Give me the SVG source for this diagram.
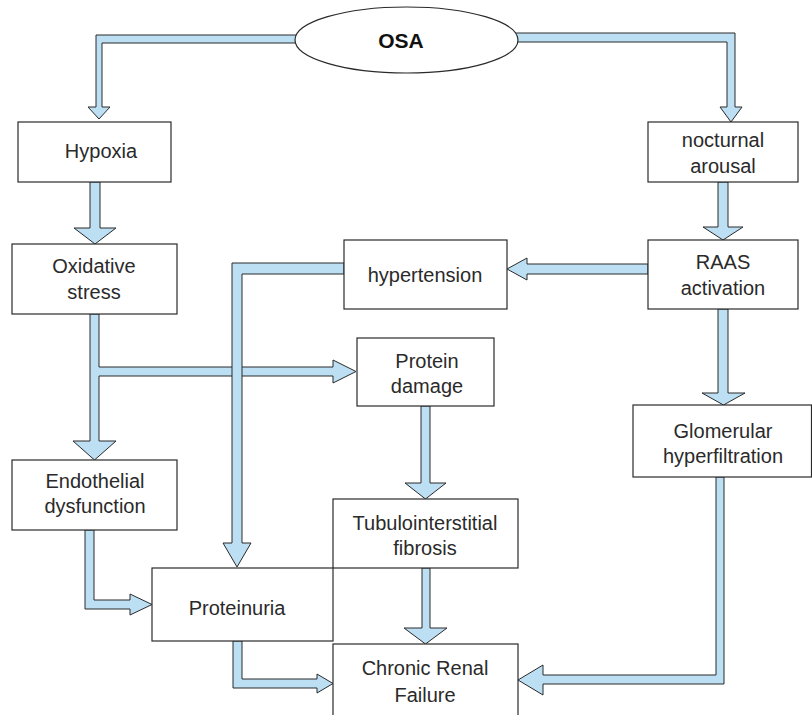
<svg xmlns="http://www.w3.org/2000/svg" width="812" height="715" viewBox="0 0 812 715">
<style>
.bg{fill:#ffffff}
.box{fill:#ffffff;stroke:#2a2a2a;stroke-width:1.2}
.arr{fill:#bcdff3;stroke:#2a2a2a;stroke-width:1;stroke-linejoin:miter}
.t{font-family:"Liberation Sans",Arial,sans-serif;font-size:20px;fill:#2a2a2a;text-anchor:middle}
.b{font-weight:bold;font-size:21px;fill:#111}
</style>
<rect class="bg" x="0" y="0" width="812" height="715"/>
<g id="connectors">
<path class="arr" d="M300,35 H96 V107 H88 L99,119 L110,107 H102 V43 H300 Z"/>
<path class="arr" d="M512,33 H735 V107 H742 L731,122 L720,107 H727 V42 H512 Z"/>
<path class="arr" d="M90,182 V228 H74 L95,244 L116,228 H100 V182 Z"/>
<path class="arr" d="M718,182 V227 H703 L723,240 L743,227 H728 V182 Z"/>
<path class="arr" d="M648,264 H527 V258 L507,269 L527,280 V274 H648 Z"/>
<path class="arr" d="M90,314 V441 H73 L94.5,460 L116,441 H99 V376 H333 V383 L356,371.5 L333,360 V367 H99 V314 Z"/>
<path class="arr" d="M344,263 H232 V543 H223 L237,567 L251,543 H242 V274 H344 Z"/>
<path class="arr" d="M85,530 V609 H130 V615 L152,604.5 L130,594 V600 H94 V530 Z"/>
<path class="arr" d="M233,641 V688 H317 V693 L333,683.5 L317,674 V679 H242 V641 Z"/>
<path class="arr" d="M421,406 V483 H405 L425.5,499 L446,483 H430 V406 Z"/>
<path class="arr" d="M422,568 V628 H404 L425.5,644 L447,628 H430 V568 Z"/>
<path class="arr" d="M718,309 V393 H702 L723.5,405 L745,393 H728 V309 Z"/>
<path class="arr" d="M716,477 V675 H543 V665 L518,680 L543,695 V684 H724 V477 Z"/>
</g>
<g id="osa">
<ellipse class="box" cx="406.5" cy="40" rx="111.5" ry="33"/>
<text class="t b" x="401" y="48">OSA</text>
</g>
<g id="hypoxia">
<rect class="box" x="18" y="122" width="153" height="60"/>
<text class="t" x="101" y="158">Hypoxia</text>
</g>
<g id="nocturnal">
<rect class="box" x="648" y="122" width="150" height="60"/>
<text class="t" x="723" y="147">nocturnal</text>
<text class="t" x="723" y="173">arousal</text>
</g>
<g id="oxidative">
<rect class="box" x="12" y="244" width="165" height="70"/>
<text class="t" x="94" y="273">Oxidative</text>
<text class="t" x="94" y="299">stress</text>
</g>
<g id="hypertension">
<rect class="box" x="344" y="240" width="163" height="69"/>
<text class="t" x="425" y="282">hypertension</text>
</g>
<g id="raas">
<rect class="box" x="648" y="240" width="150" height="69"/>
<text class="t" x="723" y="269">RAAS</text>
<text class="t" x="723" y="295">activation</text>
</g>
<g id="protein-damage">
<rect class="box" x="357" y="338" width="137" height="68"/>
<text class="t" x="427" y="368">Protein</text>
<text class="t" x="427" y="393">damage</text>
</g>
<g id="glomerular">
<rect class="box" x="633" y="405" width="178.5" height="72"/>
<text class="t" x="723" y="438">Glomerular</text>
<text class="t" x="723" y="463">hyperfiltration</text>
</g>
<g id="endothelial">
<rect class="box" x="12" y="460" width="165" height="70"/>
<text class="t" x="95" y="488">Endothelial</text>
<text class="t" x="95" y="513">dysfunction</text>
</g>
<g id="tubulo">
<rect class="box" x="333" y="499" width="185" height="69"/>
<text class="t" x="425" y="530">Tubulointerstitial</text>
<text class="t" x="425" y="555">fibrosis</text>
</g>
<g id="proteinuria">
<rect class="box" x="152" y="568" width="181" height="73"/>
<text class="t" x="237" y="615">Proteinuria</text>
</g>
<g id="crf">
<rect class="box" x="333" y="644" width="185" height="76"/>
<text class="t" x="425" y="675">Chronic Renal</text>
<text class="t" x="425" y="702">Failure</text>
</g>
</svg>
